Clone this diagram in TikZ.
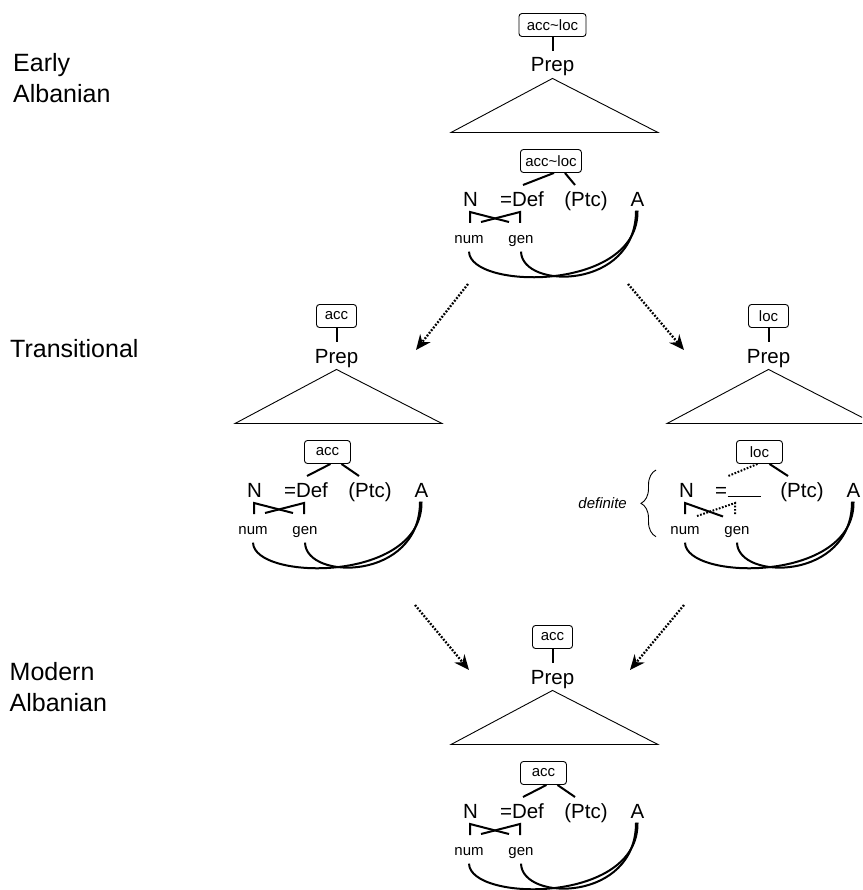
\documentclass[tikz,border=0pt]{standalone}
\usepackage{fontspec}
\setmainfont{Liberation Sans}
\usetikzlibrary{arrows.meta,decorations.pathreplacing,calc}
\newcommand\stageblock[5]{%
  \node[fbox, minimum width=#3] (#1top) at (552.5,25) {#2};
  \node[big] (#1prep) at (552.5,72) {Prep};
  \draw[thick2] (#1top) -- ([yshift=7pt]#1prep.north);
  \draw[tri] ([yshift=-2pt]#1prep.south) -- (451,132.5) -- (658,132.5) -- cycle;
  \node[fbox, minimum width=#5, anchor=west] (#1low) at (520,161) {#4};
  \node[big] (#1N) at (470.5,206.5) {N};
  \node[big] (#1ptc) at (586,206.5) {(Ptc)};
  \node[big] (#1A) at (637.5,206.5) {A};
  \node[small] (#1num) at (469,243.3) {num};
  \node[small] (#1gen) at (521,243.3) {gen};
  \draw[thick2] ([yshift=-8pt]#1num.south) .. controls (470,290) and (639,292) .. ([yshift=-4pt]#1A.south);
  \draw[thick2] ([yshift=-5pt]#1gen.south) .. controls (522,290) and (636,290) .. ([xshift=-1.5pt,yshift=-4pt]#1A.south);
}
\newcommand\defpart[1]{%
  \node[big] (#1def) at (522,206.5) {=Def};
  \draw[thick2] ([xshift=3pt]#1low.south) -- (523,185);
  \draw[thick2] ([xshift=14pt]#1low.south) -- (575,185);
  \draw[thick2] (470,223) -- (470,212) -- (509,222);
  \draw[thick2] (520,223) -- (520,212) -- (481,222);
}
\begin{document}
\begin{tikzpicture}[x=1pt,y=-1pt,
  big/.style={font=\fontsize{20.5}{24}\selectfont, inner sep=0pt, anchor=base},
  small/.style={font=\fontsize{15}{18}\selectfont, inner sep=0pt, anchor=base},
  fbox/.style={draw, rounded corners=3pt, line width=0.9pt, font=\fontsize{15}{18}\selectfont, inner xsep=3pt, inner ysep=0pt, minimum height=23pt},
  thick2/.style={line width=2pt},
  dotline/.style={line width=2pt, dash pattern=on 1.7pt off 1.6pt},
  tri/.style={line width=0.9pt},
  dotarrow/.style={line width=2.3pt, dash pattern=on 1.8pt off 1.6pt, -{Stealth[length=15pt,width=13pt]}},
  lbl/.style={font=\fontsize{25}{30}\selectfont, inner sep=0pt, anchor=base west},
]
\useasboundingbox (0,0) rectangle (862,890);
\clip (0,0) rectangle (862,890);

% period labels
\node[lbl] (early) at (13,71.7) {Early};
\node[lbl] (alb1) at (13,103) {Albanian};
\node[lbl] (trans) at (10,357) {Transitional};
\node[lbl] (modern) at (9.5,680) {Modern};
\node[lbl] (alb2) at (9.5,711.7) {Albanian};

% Early Albanian
\begin{scope}
  \stageblock{E}{acc\textasciitilde loc}{67pt}{acc\textasciitilde loc}{61pt}
  \defpart{E}
\end{scope}

% Transitional, acc
\begin{scope}[shift={(-216,291)}]
  \stageblock{L}{acc}{40pt}{acc}{46pt}
  \defpart{L}
\end{scope}

% Transitional, loc
\begin{scope}[shift={(216,291)}]
  \stageblock{R}{loc}{40pt}{loc}{46pt}
  \node[big] (Req) at (505,206.5) {=};
  \draw[line width=1pt] (Req.base east) ++(0.5,-1) coordinate (Rus) -- ++(33,0) coordinate (Rue);
  \draw[dotline] ([xshift=-2pt]Rlow.south) -- (511,185.5);
  \draw[thick2] ([xshift=10pt]Rlow.south) -- (572,185);
  \draw[thick2] (469,223) -- (469,212) -- (507,225.5);
  \draw[dotline] (519,223) -- (519,212) -- (481,225);
  \draw[decorate, decoration={brace, amplitude=15pt}, line width=0.9pt] (440,245.7) -- (440,179);
  \node[small, font=\fontsize{15}{18}\selectfont\itshape, anchor=base east] (Rdef) at (411,217) {definite};
\end{scope}

% Modern Albanian
\begin{scope}[shift={(0,612)}]
  \stageblock{M}{acc}{40pt}{acc}{46pt}
  \defpart{M}
\end{scope}

% transition arrows
\coordinate (a1s) at (468,284);
\coordinate (a1e) at (416,350);
\coordinate (a2s) at (628,284);
\coordinate (a2e) at (684,350);
\coordinate (a3s) at (415,605);
\coordinate (a3e) at (469,670);
\coordinate (a4s) at (684,605);
\coordinate (a4e) at (630,670);
\draw[dotarrow] (a1s) -- (a1e);
\draw[dotarrow] (a2s) -- (a2e);
\draw[dotarrow] (a3s) -- (a3e);
\draw[dotarrow] (a4s) -- (a4e);
\end{tikzpicture}
\end{document}
